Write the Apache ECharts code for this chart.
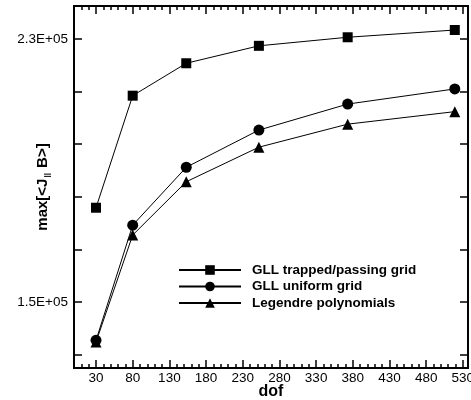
<!DOCTYPE html>
<html>
<head>
<meta charset="utf-8">
<script src="https://cdn.jsdelivr.net/npm/echarts@6/dist/echarts.min.js"></script>
<style>
  html, body { margin: 0; padding: 0; background: #fff; }
  #main { width: 471px; height: 400px; }
</style>
</head>
<body>
<div id="main"></div>
<script>
// dof on x, max[<J|| B>] on y
const dof = [30, 80, 153, 252, 373, 519]
const trapped = [178700, 212750, 222600, 227900, 230500, 232700]
const uniform = [138400, 173400, 191000, 202300, 210200, 214800]
const legendre = [137900, 170400, 186600, 197100, 204100, 207900]

const xMajor = [30, 80, 130, 180, 230, 280, 330, 380, 430, 480, 530]
const xAll = [10, 20, 30, 40, 50, 60, 70, 80, 90, 100, 110, 120, 130, 140, 150, 160, 170, 180, 190, 200,
  210, 220, 230, 240, 250, 260, 270, 280, 290, 300, 310, 320, 330, 340, 350, 360, 370, 380, 390, 400,
  410, 420, 430, 440, 450, 460, 470, 480, 490, 500, 510, 520, 530]
const yTicks = [134000, 150000, 166000, 182000, 198000, 214000, 230000]
const yLabels = [150000, 230000]

const font = 'Liberation Sans'
const pairs = (ys) => dof.map((d, i) => [d, ys[i]])

let chart = echarts.init(document.getElementById('main'))

let gridBox = (show, top, bottom) => ({
  left: 74,
  right: 3,
  top: top,
  bottom: bottom,
  containLabel: false,
  outerBoundsMode: 'none',
  show: show,
  borderColor: '#000',
  borderWidth: 2,
  backgroundColor: 'transparent'
})

let xAxisBase = (grid, pos, ticks, len, inside, showLabel) => ({
  type: 'value',
  gridIndex: grid,
  position: pos,
  min: 0,
  max: 537,
  axisLine: { show: false, onZero: false },
  splitLine: { show: false },
  axisTick: {
    show: true,
    inside: inside,
    length: len,
    customValues: ticks,
    lineStyle: { color: '#000', width: 1.5 }
  },
  axisLabel: {
    show: showLabel,
    customValues: xMajor,
    margin: 3,
    color: '#000',
    fontFamily: font,
    fontSize: 13.5
  }
})

let yAxisBase = (grid, pos, showTicks, showLabel) => ({
  type: 'value',
  gridIndex: grid,
  position: pos,
  min: 130000,
  max: 240000,
  axisLine: { show: false, onZero: false },
  splitLine: { show: false },
  axisTick: {
    show: showTicks,
    inside: true,
    length: 8,
    customValues: yTicks,
    lineStyle: { color: '#000', width: 1.5 }
  },
  axisLabel: {
    show: showLabel,
    customValues: yLabels,
    margin: 6,
    color: '#000',
    fontFamily: font,
    fontSize: 13.5,
    formatter: (v) => (v / 100000).toFixed(1) + 'E+05'
  }
})

// short ticks every 10 on the main axes
let bottomX = xAxisBase(0, 'bottom', xAll, 4, true, true)
bottomX.name = 'dof'
bottomX.nameLocation = 'middle'
bottomX.nameGap = 16
bottomX.nameMoveOverlap = false
bottomX.nameTextStyle = { color: '#000', fontFamily: font, fontSize: 16, fontWeight: 'bold' }

let leftY = yAxisBase(0, 'left', true, true)
leftY.name = '{a|max[<J}{s|||}{a| B>]}'
leftY.nameLocation = 'middle'
leftY.nameGap = 23
leftY.nameMoveOverlap = false
leftY.nameTextStyle = {
  rich: {
    a: { color: '#000', fontFamily: font, fontSize: 15, fontWeight: 'bold' },
    s: { color: '#000', fontFamily: font, fontSize: 8, fontWeight: 'bold', padding: [9, 1, 0, 1] }
  }
}

let lineSeries = (name, symbol, size, ys) => ({
  name: name,
  type: 'line',
  xAxisIndex: 0,
  yAxisIndex: 0,
  symbol: symbol,
  symbolSize: size,
  showAllSymbol: true,
  animation: false,
  itemStyle: { color: '#000' },
  lineStyle: { color: '#000', width: 1 },
  data: pairs(ys)
})

let option = {
  animation: false,
  backgroundColor: '#fff',
  grid: [
    gridBox(true, 6, 32),
    gridBox(false, 6, 32),
    // thin strip on the bottom edge, its top axis ticks point up into the plot
    gridBox(false, 368, 31),
    gridBox(false, 6, 32)
  ],
  legend: {
    orient: 'vertical',
    left: 173,
    top: 258,
    itemWidth: 62,
    itemHeight: 12,
    itemGap: 2.5,
    textStyle: { color: '#000', fontFamily: font, fontSize: 13.5, fontWeight: 'bold', padding: [0, 0, 0, 6] },
    data: ['GLL trapped/passing grid', 'GLL uniform grid', 'Legendre polynomials']
  },
  xAxis: [
    bottomX,
    xAxisBase(1, 'top', xAll, 4, true, false),
    xAxisBase(2, 'top', xMajor, 8, false, false),
    xAxisBase(3, 'top', xMajor, 8, true, false)
  ],
  yAxis: [
    leftY,
    yAxisBase(1, 'right', true, false),
    yAxisBase(2, 'left', false, false),
    yAxisBase(3, 'left', false, false)
  ],
  series: [
    lineSeries('GLL trapped/passing grid', 'rect', 10, trapped),
    lineSeries('GLL uniform grid', 'circle', 11, uniform),
    lineSeries('Legendre polynomials', 'triangle', 11, legendre)
  ]
}
chart.setOption(option)
</script>
</body>
</html>
